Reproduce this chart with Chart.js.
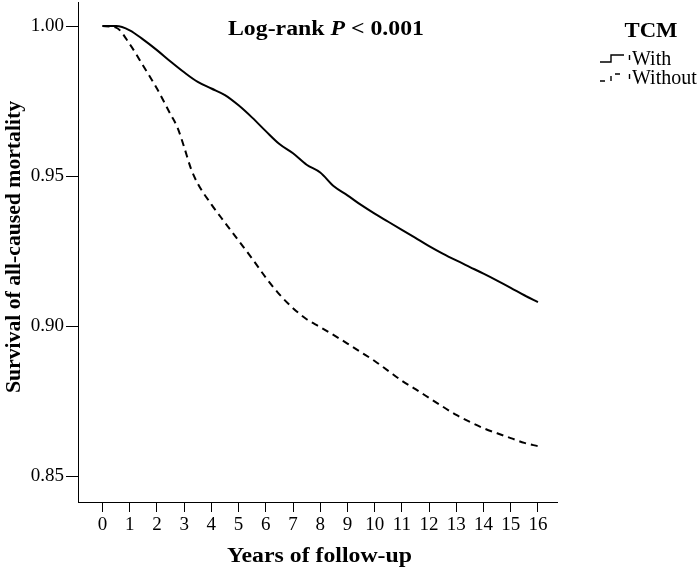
<!DOCTYPE html>
<html>
<head>
<meta charset="utf-8">
<script src="https://cdn.jsdelivr.net/npm/chart.js@4.4.0/dist/chart.umd.min.js"></script>
<style>
  body { margin: 0; background: #fff; }
  #wrap { width: 700px; height: 570px; }
</style>
</head>
<body>
<div id="wrap"><canvas id="myChart" width="700" height="570"></canvas></div>
<script>
// data
var yearTicks = [0, 1, 2, 3, 4, 5, 6, 7, 8, 9, 10, 11, 12, 13, 14, 15, 16];
var survTicks = [0.85, 0.90, 0.95, 1.00];

var withTime = [0, 0.5, 1, 1.5, 2, 2.5, 3, 3.5, 4, 4.5, 5, 5.5, 6, 6.5, 7, 7.5, 8, 8.5, 9, 9.5, 10, 10.5, 11, 11.5, 12, 12.5, 13, 13.5, 14, 14.5, 15, 15.5, 16];
var withSurv = [1.000, 1.000, 0.9986, 0.9955, 0.9920, 0.9882, 0.9846, 0.9814, 0.9792, 0.9770, 0.9736, 0.9695, 0.9650, 0.9607, 0.9576, 0.9538, 0.9512, 0.9466, 0.9436, 0.9404, 0.9375, 0.9348, 0.9321, 0.9294, 0.9267, 0.9242, 0.9219, 0.9197, 0.9175, 0.9152, 0.9128, 0.9103, 0.9080];

var withoutTime = [0, 0.5, 1, 1.5, 2, 2.5, 2.75, 3, 3.25, 3.5, 4, 4.5, 5, 5.5, 6, 6.5, 7, 7.5, 8, 8.5, 9, 9.5, 10, 10.5, 11, 11.5, 12, 12.5, 13, 13.5, 14, 14.5, 15, 15.5, 16];
var withoutSurv = [1.000, 0.9995, 0.9940, 0.9867, 0.9792, 0.9706, 0.9663, 0.9597, 0.9525, 0.9475, 0.9406, 0.9345, 0.9285, 0.9225, 0.9162, 0.9106, 0.9060, 0.9023, 0.8997, 0.8970, 0.8942, 0.8913, 0.8884, 0.8851, 0.8818, 0.8790, 0.8761, 0.8732, 0.8704, 0.8681, 0.8660, 0.8643, 0.8627, 0.8611, 0.8600];

var seriesNames = ['With', 'Without'];
var legendTitle = 'TCM';
var xTitle = 'Years of follow-up';
var yTitle = 'Survival of all-caused mortality';

var serif = '"Liberation Serif", "Times New Roman", serif';

function toPoints(xs, ys) {
  var pts = [];
  for (var i = 0; i < xs.length; i++) {
    pts.push({ x: xs[i], y: ys[i] });
  }
  return pts;
}

// the bold text in the original is a wide Times, so stretch it a bit
function wideText(ctx, parts, cx, cy, width, angle) {
  var total = 0;
  parts.forEach(function(p) { ctx.font = p.f; p.w = ctx.measureText(p.t).width; total += p.w; });
  ctx.save();
  ctx.translate(cx, cy);
  if (angle) ctx.rotate(angle);
  ctx.scale(width / total, 1);
  var x = -total / 2;
  ctx.textAlign = 'left';
  ctx.textBaseline = 'middle';
  parts.forEach(function(p) { ctx.font = p.f; ctx.fillText(p.t, x, 0); x += p.w; });
  ctx.restore();
}

var annotations = {
  id: 'annotations',
  afterDraw: function(chart) {
    var ctx = chart.ctx;
    var bold = 'bold 20px ' + serif;
    ctx.save();
    ctx.fillStyle = '#000';

    wideText(ctx, [
      { t: 'Log-rank ', f: bold },
      { t: 'P', f: 'italic bold 20px ' + serif },
      { t: ' < 0.001', f: bold }
    ], 326, 30, 196);

    var area = chart.chartArea;
    wideText(ctx, [{ t: xTitle, f: bold }], (area.left + area.right) / 2 + 2, 557, 185);
    wideText(ctx, [{ t: yTitle, f: bold }], 15, 247, 292, -Math.PI / 2);

    // legend
    wideText(ctx, [{ t: legendTitle, f: 'bold 21px ' + serif }], 651, 32, 53);

    ctx.font = '20px ' + serif;
    ctx.textAlign = 'left';
    ctx.textBaseline = 'middle';
    ctx.strokeStyle = '#000';
    ctx.lineWidth = 1.4;
    seriesNames.forEach(function(name, i) {
      var yy = 59 + i * 19;
      ctx.setLineDash(i === 0 ? [] : [5, 6]);
      ctx.beginPath();
      ctx.moveTo(600, yy + 3);
      ctx.lineTo(611, yy + 3);
      ctx.lineTo(611, yy - 4);
      ctx.lineTo(624, yy - 4);
      ctx.stroke();
      ctx.setLineDash([]);
      ctx.beginPath();
      ctx.moveTo(629.5, yy - 4);
      ctx.lineTo(629.5, yy + 1);
      ctx.stroke();
      ctx.fillText(name, 632, yy + 1);
    });
    ctx.restore();
  }
};

var ctx = document.getElementById('myChart');
var chart = new Chart(ctx, {
  type: 'line',
  data: {
    datasets: [{
      label: seriesNames[0],
      data: toPoints(withTime, withSurv),
      borderColor: '#000',
      borderWidth: 2,
      pointRadius: 0,
      cubicInterpolationMode: 'monotone',
      fill: false
    }, {
      label: seriesNames[1],
      data: toPoints(withoutTime, withoutSurv),
      borderColor: '#000',
      borderWidth: 2,
      borderDash: [7, 5],
      pointRadius: 0,
      cubicInterpolationMode: 'monotone',
      fill: false
    }]
  },
  options: {
    responsive: false,
    animation: false,
    layout: { padding: { top: 0, right: 143, left: 0, bottom: 0 } },
    plugins: {
      legend: { display: false },
      tooltip: { enabled: false }
    },
    scales: {
      x: {
        type: 'linear',
        min: -0.9,
        max: 16.7,
        afterBuildTicks: function(s) { s.ticks = yearTicks.map(function(v) { return { value: v }; }); },
        afterFit: function(s) { s.height = 68; },
        grid: { drawOnChartArea: false, drawTicks: true, tickLength: 10, color: '#000', lineWidth: 1 },
        border: { display: true, color: '#000', width: 1 },
        ticks: {
          color: '#000',
          font: { family: serif, size: 19 },
          padding: 2,
          maxRotation: 0,
          autoSkip: false
        }
      },
      y: {
        type: 'linear',
        min: 0.8414,
        max: 1.008,
        afterBuildTicks: function(s) { s.ticks = survTicks.map(function(v) { return { value: v }; }); },
        afterFit: function(s) { s.width = 78; },
        grid: { drawOnChartArea: false, drawTicks: true, tickLength: 12, color: '#000', lineWidth: 1 },
        border: { display: true, color: '#000', width: 1 },
        ticks: {
          color: '#000',
          font: { family: serif, size: 19, lineHeight: 0.01 },
          padding: 2,
          callback: function(v) { return v.toFixed(2); }
        }
      }
    }
  },
  plugins: [annotations]
});
</script>
</body>
</html>
